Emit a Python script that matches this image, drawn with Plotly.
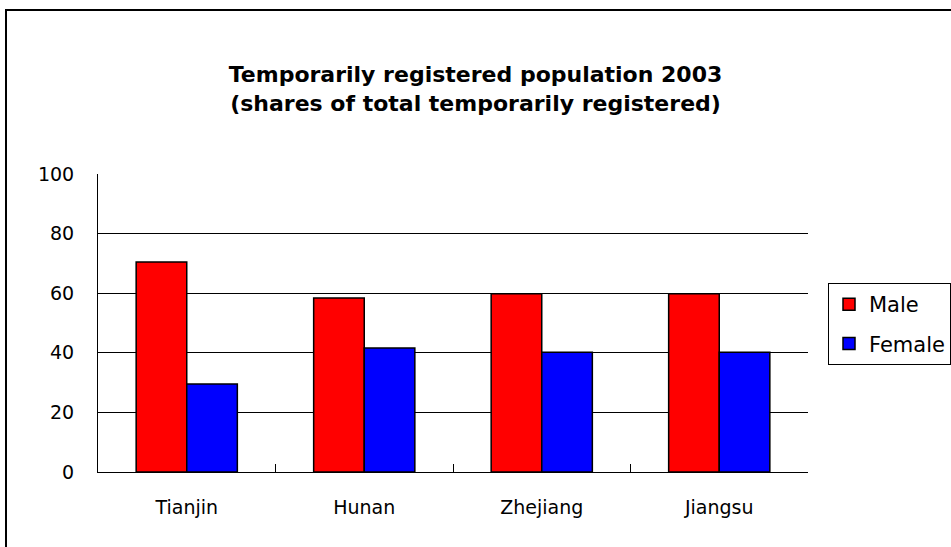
import plotly.graph_objects as go

categories = ["Tianjin", "Hunan", "Zhejiang", "Jiangsu"]
male = [70.5, 58.4, 59.8, 59.8]
female = [29.5, 41.6, 40.2, 40.2]
y_ticks = [0, 20, 40, 60, 80, 100]

W, H = 951, 547
L, R, T, B = 98, 951 - 808, 174, 547 - 472

def px_x(p):
    return (p - L) / (W - L - R)

def px_y(p):
    return (H - B - p) / (H - T - B)

FONT = "DejaVu Sans, Liberation Sans, Arial, sans-serif"

fig = go.Figure()
fig.add_trace(go.Bar(x=categories, y=male, name="Male", legendgroup="m",
                     marker=dict(color="#ff0000", line=dict(color="black", width=1.5))))
fig.add_trace(go.Bar(x=categories, y=female, name="Female", legendgroup="f",
                     marker=dict(color="#0000ff", line=dict(color="black", width=1.5))))

fig.update_layout(
    width=W, height=H, autosize=False,
    margin=dict(l=L, r=R, t=T, b=B, pad=0, autoexpand=False),
    paper_bgcolor="white", plot_bgcolor="white",
    font=dict(family=FONT, size=19, color="black"),
    title=dict(text="<b>Temporarily registered population 2003<br>(shares of total temporarily registered)</b>",
               x=0.5, xanchor="center", y=1 - 82 / H, yanchor="middle", yref="container",
               font=dict(size=22, color="black", family=FONT)),
    barmode="group", bargap=0.43, bargroupgap=0,
    showlegend=True,
    legend=dict(xref="container", yref="container", x=828 / W, xanchor="left",
                y=1 - 283 / H, yanchor="top",
                bordercolor="black", borderwidth=1, bgcolor="white",
                font=dict(size=21), tracegroupgap=9, itemwidth=30),
    xaxis=dict(showline=True, linecolor="black", linewidth=1, ticks="inside",
               tickson="boundaries", ticklen=8, tickcolor="black", showgrid=False,
               ticklabelstandoff=18, automargin=False),
    yaxis=dict(range=[0, 100], tickvals=y_ticks, showline=True, linecolor="black",
               linewidth=1, showgrid=True, gridcolor="black", gridwidth=1,
               ticks="", zeroline=False, ticklabelstandoff=19, automargin=False),
    shapes=[dict(type="rect", xref="paper", yref="paper",
                 x0=px_x(6), x1=px_x(1200), y0=px_y(800), y1=px_y(10),
                 line=dict(color="black", width=2), fillcolor="rgba(0,0,0,0)")],
)

fig.write_html("out.html", config={"displayModeBar": False},
               post_script="document.body.style.margin='0';document.body.style.overflow='hidden';")
